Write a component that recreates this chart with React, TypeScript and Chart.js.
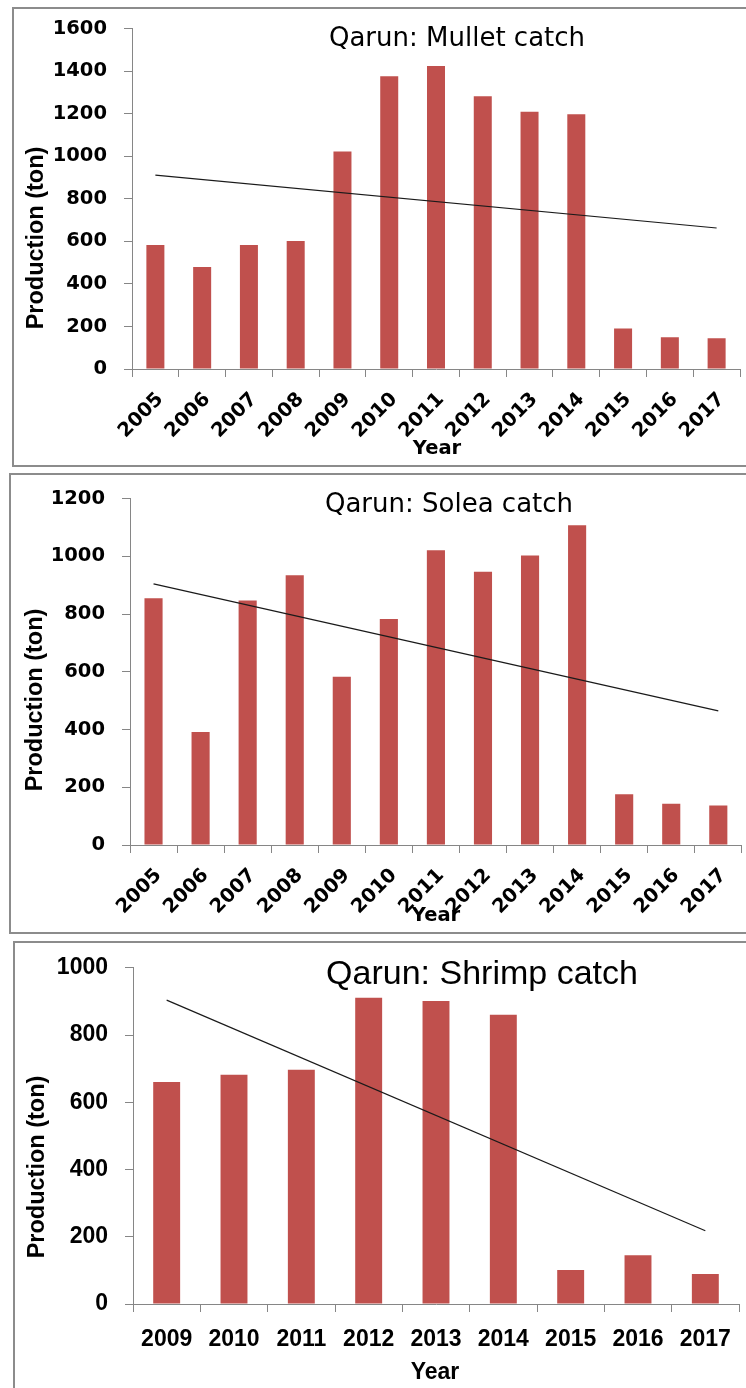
import React, { useEffect, useRef } from "react";
import { Chart, registerables } from "chart.js";

Chart.register(...registerables);

// ---------- data ----------
const mulletYears = ["2005", "2006", "2007", "2008", "2009", "2010", "2011", "2012", "2013", "2014", "2015", "2016", "2017"];
const mulletCatch = [583, 480, 583, 602, 1023, 1376, 1425, 1282, 1209, 1198, 191, 149, 144];
const mulletTrendEnds = [912, 663];

const soleaYears = ["2005", "2006", "2007", "2008", "2009", "2010", "2011", "2012", "2013", "2014", "2015", "2016", "2017"];
const soleaCatch = [855, 392, 847, 935, 583, 783, 1021, 947, 1003, 1108, 176, 143, 137];
const soleaTrendEnds = [905, 465];

const shrimpYears = ["2009", "2010", "2011", "2012", "2013", "2014", "2015", "2016", "2017"];
const shrimpCatch = [660, 682, 697, 911, 901, 860, 101, 145, 89];
const shrimpTrendEnds = [904, 218];

const mulletMax = 1600;
const soleaMax = 1200;
const shrimpMax = 1000;
const tickStep = 200;

const titles = ["Qarun: Mullet catch", "Qarun: Solea catch", "Qarun: Shrimp catch"];
const yTitle = "Production (ton)";
const xTitle = "Year";

const W = 746;
const BAR = "#C0504D";
const AXIS = "#868686";
const FRAME = "#8c8c8c";

type Panel = {
  top: number;
  height: number;
  frame: { left: number; top: number; bottom: number | null };
  area: { l: number; t: number; r: number; b: number };
  labels: string[];
  values: number[];
  trend: number[];
  max: number;
  title: string;
  family: string;
  titleFont: string;
  titleX: number;
  titleY: number;
  tickSize: number;
  yTitleFont: string;
  yTitleX: number;
  yTitleY: number;
  yearX: number;
  yearY: number;
  rotation: number;
  barPct: number;
  xPad: number;
  labelOffset: number;
};

const DV = "'DejaVu Sans', sans-serif";
const LS = "'Liberation Sans', Arial, sans-serif";

const panels: Panel[] = [
  {
    top: 0,
    height: 470,
    frame: { left: 12, top: 7, bottom: 467 },
    area: { l: 132, t: 28, r: 740, b: 369 },
    labels: mulletYears,
    values: mulletCatch,
    trend: mulletTrendEnds,
    max: mulletMax,
    title: titles[0],
    family: DV,
    titleFont: "normal 26px " + DV,
    titleX: 457,
    titleY: 39,
    tickSize: 19.5,
    yTitleFont: "bold 23.5px " + LS,
    yTitleX: 37,
    yTitleY: 238,
    yearX: 437,
    yearY: 449,
    rotation: 45,
    barPct: 0.385,
    xPad: 11,
    labelOffset: 5,
  },
  {
    top: 470,
    height: 467,
    frame: { left: 9, top: 473, bottom: 934 },
    area: { l: 130, t: 25, r: 742, b: 375 },
    labels: soleaYears,
    values: soleaCatch,
    trend: soleaTrendEnds,
    max: soleaMax,
    title: titles[1],
    family: DV,
    titleFont: "normal 26px " + DV,
    titleX: 449,
    titleY: 35,
    tickSize: 19.5,
    yTitleFont: "bold 23.5px " + LS,
    yTitleX: 36,
    yTitleY: 230,
    yearX: 436,
    yearY: 446,
    rotation: 45,
    barPct: 0.385,
    xPad: 11,
    labelOffset: 5,
  },
  {
    top: 937,
    height: 451,
    frame: { left: 13, top: 941, bottom: null },
    area: { l: 133, t: 23, r: 739, b: 367 },
    labels: shrimpYears,
    values: shrimpCatch,
    trend: shrimpTrendEnds,
    max: shrimpMax,
    title: titles[2],
    family: LS,
    titleFont: "normal 34px " + LS,
    titleX: 482,
    titleY: 38,
    tickSize: 23,
    yTitleFont: "bold 23.5px " + LS,
    yTitleX: 38,
    yTitleY: 230,
    yearX: 435,
    yearY: 436,
    rotation: 0,
    barPct: 0.4,
    xPad: 14,
    labelOffset: 0,
  },
];

function PanelChart({ p }: { p: Panel }) {
  const ref = useRef<HTMLCanvasElement | null>(null);

  useEffect(() => {
    if (!ref.current) return;
    const n = p.labels.length;
    const trendData = p.labels.map((_, i) => (i === 0 ? p.trend[0] : i === n - 1 ? p.trend[1] : null));

    const textPlugin = {
      id: "panelText",
      afterDraw(chart: any) {
        const ctx = chart.ctx as CanvasRenderingContext2D;
        ctx.save();
        ctx.fillStyle = "#000";
        ctx.textAlign = "center";
        ctx.textBaseline = "middle";
        ctx.font = p.titleFont;
        ctx.fillText(p.title, p.titleX, p.titleY);
        ctx.font = "bold " + p.tickSize + "px " + p.family;
        ctx.fillText(xTitle, p.yearX, p.yearY);
        ctx.translate(p.yTitleX, p.yTitleY);
        ctx.rotate(-Math.PI / 2);
        ctx.font = p.yTitleFont;
        ctx.fillText(yTitle, 0, 0);
        ctx.restore();
      },
    };

    const tickFont = { family: p.family, size: p.tickSize, weight: "bold" as const };

    const chart = new Chart(ref.current, {
      type: "bar",
      data: {
        labels: p.labels,
        datasets: [
          {
            type: "line" as const,
            data: trendData,
            borderColor: "#1a1a1a",
            borderWidth: 1.2,
            pointRadius: 0,
            spanGaps: true,
            fill: false,
            order: 0,
          } as any,
          {
            type: "bar" as const,
            data: p.values,
            backgroundColor: BAR,
            borderWidth: 0,
            barPercentage: p.barPct,
            categoryPercentage: 1,
            order: 1,
          },
        ],
      },
      options: {
        animation: false,
        responsive: false,
        maintainAspectRatio: false,
        layout: { padding: { left: 0, top: p.area.t, right: W - p.area.r, bottom: 0 } },
        plugins: {
          legend: { display: false },
          tooltip: { enabled: false },
          title: { display: false },
        },
        scales: {
          x: {
            type: "category",
            offset: true,
            grid: {
              offset: true,
              drawOnChartArea: false,
              drawTicks: true,
              tickLength: 8,
              color: AXIS,
              lineWidth: 1,
            },
            border: { color: AXIS, width: 1 },
            ticks: {
              font: tickFont,
              color: "#000",
              autoSkip: false,
              maxRotation: p.rotation,
              minRotation: p.rotation,
              padding: p.xPad,
              labelOffset: p.labelOffset,
            },
            afterFit: (s: any) => {
              s.height = p.height - p.area.b;
            },
          },
          y: {
            min: 0,
            max: p.max,
            grid: {
              drawOnChartArea: false,
              drawTicks: true,
              tickLength: 8,
              color: AXIS,
              lineWidth: 1,
            },
            border: { color: AXIS, width: 1 },
            ticks: {
              stepSize: tickStep,
              font: tickFont,
              color: "#000",
              padding: 17,
              callback: (v: any) => String(v),
            },
            afterFit: (s: any) => {
              s.width = p.area.l;
            },
          },
        },
      } as any,
      plugins: [textPlugin],
    });
    return () => chart.destroy();
  }, [p]);

  return (
    <canvas
      ref={ref}
      width={W}
      height={p.height}
      style={{ position: "absolute", left: 0, top: p.top, width: W, height: p.height, display: "block" }}
    />
  );
}

export default function App() {
  return (
    <div
      style={{
        position: "absolute",
        left: 0,
        top: 0,
        width: W,
        height: 1388,
        overflow: "hidden",
        background: "#fff",
      }}
    >
      {panels.map((p, i) => (
        <div
          key={"f" + i}
          style={{
            position: "absolute",
            left: p.frame.left,
            top: p.frame.top,
            width: W + 20,
            height: p.frame.bottom === null ? 1388 - p.frame.top + 20 : p.frame.bottom - p.frame.top,
            border: "2px solid " + FRAME,
            boxSizing: "border-box",
          }}
        />
      ))}
      {panels.map((p, i) => (
        <PanelChart key={"c" + i} p={p} />
      ))}
    </div>
  );
}
